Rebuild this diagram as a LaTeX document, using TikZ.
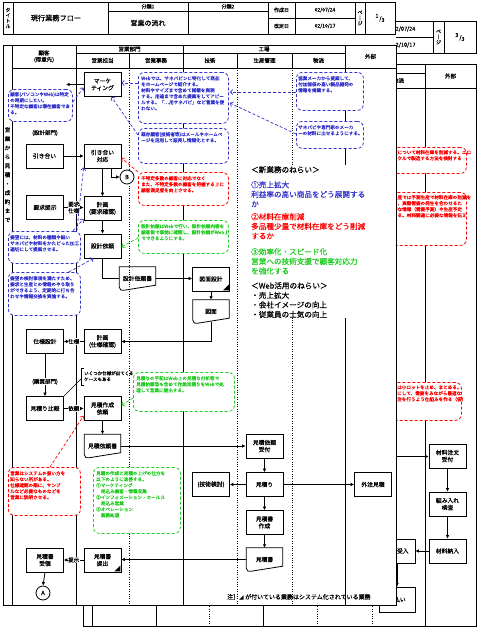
\documentclass[tikz,border=0pt]{standalone}
\usepackage{fontspec}
\setmainfont{Noto Sans CJK JP}[FakeBold=0.5]
\newfontfamily\djv{DejaVu Sans}
\usetikzlibrary{arrows.meta,calc}
\definecolor{cblue}{RGB}{51,51,204}
\definecolor{cred}{RGB}{255,0,0}
\definecolor{cgreen}{RGB}{34,204,34}
\tikzset{
  proc/.style={draw, line width=0.8pt, fill=white, minimum width=37pt, minimum height=24pt, inner sep=0pt, align=center, font=\fontsize{5.8}{7}\selectfont},
  docn/.style={minimum width=36pt, minimum height=23pt, inner sep=0pt, align=center, font=\fontsize{5.8}{7}\selectfont},
  flow/.style={line width=0.8pt, -{Latex[length=3.5pt,width=3.5pt]}},
  plainl/.style={line width=0.8pt},
  gridl/.style={line width=0.8pt},
  dotl/.style={line width=0.8pt, dash pattern=on 0.8pt off 1.6pt},
  callout/.style={rounded corners=6pt, dash pattern=on 3pt off 2pt, line width=0.8pt, fill=white, anchor=north west, inner sep=0pt},
  ctext/.style={font=\fontsize{4.6}{6}\selectfont, align=left, inner sep=0pt, anchor=north west},
  ptr/.style={dash pattern=on 3pt off 2pt, line width=0.7pt, -{Straight Barb[length=2.5pt,width=5pt]}},
  lbl/.style={fill=white, inner sep=0.5pt, font=\fontsize{5.5}{6.5}\selectfont, align=center},
  hdr/.style={inner sep=0pt, align=center, font=\fontsize{5.5}{6.5}\selectfont},
  conn/.style={circle, draw, line width=0.8pt, fill=white, minimum size=14pt, inner sep=0pt, font=\fontsize{6}{7}\selectfont},
  aim/.style={font=\fontsize{7.6}{9.6}\selectfont, align=left, inner sep=0pt, anchor=north west},
}
\begin{document}
\begin{tikzpicture}[x=1pt,y=-1pt]
\useasboundingbox (0,0) rectangle (477,627);
\fill[white] (0,0) rectangle (477,627);
% ================= back page =================
\draw[gridl] (83,21) rectangle (476,53);
\draw[gridl] (375,21) -- (375,53);
\draw[gridl] (433,21) -- (433,53);
\draw[gridl] (444,21) -- (444,53);
\draw[gridl] (348,37) -- (433,37);
\node[hdr] (bd1) at (404,29) {02/07/24};
\node[hdr] (bd2) at (404,45) {02/10/17};
\node[hdr, font=\fontsize{5}{5.5}\selectfont] (bpg) at (438.5,37) {ペ\\｜\\ジ};
\node[hdr] (bpn) at (460,37) {\raisebox{2.5pt}{3}\,/\raisebox{-1.5pt}{3}};
\draw[gridl] (83,64) rectangle (476,626);
\draw[gridl] (92,64) -- (92,626);
\draw[gridl] (156,64) -- (156,626);
\draw[gridl] (263,64) -- (263,626);
\draw[gridl] (425,64) -- (425,626);
\draw[gridl] (92,88) -- (476,88);
\draw[gridl] (156,73) -- (425,73);
\draw[gridl] (372,73) -- (372,88);
\draw[dotl] (209,88) -- (209,626);
\draw[dotl] (317,88) -- (317,626);
\draw[dotl] (372,88) -- (372,626);
\node[hdr] (bbt) at (398.5,80.5) {物流};
\node[hdr] (bgb) at (450.5,76) {外部};
\node[callout, draw=cred, minimum width=90pt, minimum height=26pt] (br1) at (376,147) {};
\node[ctext, text=cred] (br1t) at (379,150) {受注生産について材料在庫を削減する。エロ\\ットサイクルで製造する方法を検討する};
\node[callout, draw=cred, minimum width=90pt, minimum height=53pt] (br2) at (376,192) {};
\node[ctext, text=cred] (br2t) at (379,195) {見込み生産では予測生産で材料在庫の削減を\\行うため、実際需要の発生を合わせるた\\めに必要な情報（需要予測）や生産予定\\を把握する。材料調達に必要な情報を伝え\\る};
\node[callout, draw=cred, minimum width=90pt, minimum height=38pt] (br3) at (371,382) {};
\node[ctext, text=cred] (br3t) at (374,385) {材料の発注は小ロットを止め、まとめる。\\発注は月次にして、需要をみながら最適な\\ロットで発注を行うよう仕組みを作る（仮）};
\node[proc] (mc) at (447.5,456) {材料注文\\受付};
\node[proc] (kn) at (447.5,504) {組み入れ\\検査};
\node[proc] (zn) at (447.5,551) {材料納入};
\node[proc, minimum width=36pt] (uk) at (397,551) {材料受入};
\node[proc, minimum width=36pt, minimum height=25pt] (sh) at (397,599.5) {支払い};
\coordinate (mcin) at (372,456.5);
\draw[flow] (mcin) -- (mc.west |- mcin);
\draw[flow] (mc.south) -- (kn.north);
\draw[flow] (kn.south) -- (zn.north);
\draw[flow] (zn.west) -- (uk.east);
\draw[flow] (uk.south) -- (sh.north);
% ================= front page =================
\fill[white] (0,0) rectangle (396.4,605.4);
% title block
\draw[gridl] (3,2) rectangle (395,34);
\foreach \xx in {13,108,188,268,295,355,365} {\draw[gridl] (\xx,2) -- (\xx,34);}
\draw[gridl] (108,11) -- (268,11);
\draw[gridl] (268,18) -- (355,18);
\node[hdr, font=\fontsize{4.8}{5.4}\selectfont] (ttl) at (8,18) {タ\\イ\\ト\\ル};
\node[hdr, font=\fontsize{7.2}{8}\selectfont] (ttn) at (56,18) {現行業務フロー};
\node[hdr, font=\fontsize{5}{6}\selectfont] (b1) at (148,6.5) {分類1};
\node[hdr, font=\fontsize{7}{8}\selectfont] (b1v) at (148,23) {営業の流れ};
\node[hdr, font=\fontsize{5}{6}\selectfont] (b2) at (228,6.5) {分類2};
\node[hdr, font=\fontsize{5}{6}\selectfont] (cd) at (281.5,10) {作成日};
\node[hdr, font=\fontsize{5}{6}\selectfont] (cdv) at (325,10) {02/07/24};
\node[hdr, font=\fontsize{5}{6}\selectfont] (kd) at (281.5,26) {改定日};
\node[hdr, font=\fontsize{5}{6}\selectfont] (kdv) at (325,26) {02/10/17};
\node[hdr, font=\fontsize{5}{5.5}\selectfont] (pg) at (360,18) {ペ\\｜\\ジ};
\node[hdr] (pn) at (380,18) {\raisebox{2.5pt}{1}\,/\raisebox{-1.5pt}{3}};
% swimlane frame
\draw[gridl] (3,45) rectangle (396,605);
\draw[gridl] (12,45) -- (12,605);
\draw[gridl] (76,45) -- (76,605);
\draw[gridl] (183,45) -- (183,605);
\draw[gridl] (345,45) -- (345,605);
\draw[gridl] (12,68) -- (396,68);
\draw[gridl] (76,53) -- (345,53);
\foreach \xx in {129,237,292} {\draw[gridl] (\xx,53) -- (\xx,68); \draw[dotl] (\xx,68) -- (\xx,605);}
\node[hdr] (hc) at (44,56.5) {顧客\\(得意先)};
\node[hdr] (he) at (129.5,49) {営業部門};
\node[hdr] (he1) at (102.5,60.5) {営業担当};
\node[hdr] (he2) at (156,60.5) {営業事務};
\node[hdr] (hf) at (264,49) {工場};
\node[hdr] (hf1) at (210,60.5) {技術};
\node[hdr] (hf2) at (264.5,60.5) {生産管理};
\node[hdr] (hf3) at (318.5,60.5) {物流};
\node[hdr] (hx) at (370.5,56.5) {外部};
\node[hdr, font=\fontsize{5.6}{9}\selectfont, anchor=north] (side) at (7.5,127) {営\\業\\か\\ら\\見\\積\\・\\成\\約\\ま\\で};
% white area behind the aims text
\fill[white] (241,165) rectangle (394.5,318);
% ---- process boxes ----
\node[proc] (mk) at (102.5,84.5) {マーケ\\ティング};
\node[proc] (hik) at (44.5,156) {引き合い};
\node[proc] (hk) at (102.5,156) {引き合い\\対応};
\node[conn] (cB) at (127,177) {B};
\node[proc] (yk) at (45,207.5) {要求提示};
\node[proc] (kk1) at (102.5,208.5) {計画\\(要求確認)};
\node[proc] (sd) at (102.5,246) {設計依頼};
\node[docn] (sdoc) at (137.5,278.5) {設計依頼書};
\node[proc] (zs) at (211,279) {図面設計};
\node[docn] (zm) at (211,311.5) {図面};
\node[proc] (ss) at (45,341.5) {仕様設計};
\node[proc] (kk2) at (102.5,341.5) {計画\\(仕様確認)};
\node[proc] (mh) at (45,408.5) {見積り比較};
\node[proc] (mi) at (102.5,408.5) {見積作成\\依頼};
\node[docn] (mdoc) at (102.5,446) {見積依頼書};
\node[proc] (mu) at (264.5,446) {見積依頼\\受付};
\node[proc] (gk) at (264.5,484.5) {見積り};
\node[proc] (gj) at (211,484.5) {(技術検討)};
\node[proc] (gc) at (373,484.5) {外注見積};
\node[proc] (ms) at (264.5,522.5) {見積書\\作成};
\node[docn] (md2) at (264.5,559.5) {見積書};
\node[proc] (mt) at (102.5,560) {見積書\\提出};
\node[proc] (mj) at (45,560) {見積書\\受領};
\node[conn] (cA) at (43,593) {A};
\node[hdr] (sbu) at (45,133) {(設計部門)};
% document outlines
\foreach \d in {sdoc,zm,mdoc,md2} {
  \draw[plainl] ([yshift=3pt]\d.south west) -- (\d.north west) -- (\d.north east) -- ([yshift=5pt]\d.south east) -- ([xshift=5pt]\d.south west) .. controls ([xshift=1pt]\d.south west) .. cycle;
}
% system marks
\foreach \d in {zs,mt} {\fill ([shift={(-1pt,1pt)}]\d.south east) -- ++(0,6pt) -- ++(-6pt,-6pt) -- cycle;}
% ---- flows ----
\coordinate (mkl) at (66,84.5);
\draw[flow] (mk.west) -- (mkl);
\draw[flow] (hik.east) -- (hk.west);
\draw[flow] (hk.south) -- (kk1.north);
\draw[flow] ([xshift=9pt]hk.south) |- (cB.west);
\draw[flow] (yk.east) -- (yk.east -| kk1.west) node[lbl, midway] (l1) {要求\\仕様};
\draw[flow] (kk1.south) -- (sd.north);
\draw[plainl] (sd.south) |- (sdoc.west);
\draw[flow] (sdoc.east) -- (sdoc.east -| zs.west);
\draw[flow] (zs.south) -- (zm.north);
\draw[flow] ([yshift=1.5pt]zm.south) |- (kk2.east);
\draw[flow] (kk2.west) -- (ss.east) node[lbl, midway] (l2) {仕様};
\draw[flow] (ss.south) -- (mh.north) node[lbl, pos=0.66] (l3) {(購買部門)};
\draw[flow] (mh.east) -- (mi.west) node[lbl, midway] (l4) {依頼};
\draw[flow] (mi.south) -- (mdoc.north);
\draw[flow] (mdoc.east) -- (mdoc.east -| mu.west);
\draw[flow] (mu.south) -- (gk.north);
\draw[flow] (gk.west) -- (gj.east);
\draw[flow] (gk.east) -- (gc.west);
\draw[flow] (gk.south) -- (ms.north);
\draw[flow] (ms.south) -- (md2.north);
\draw[flow] (md2.west) -- (md2.west -| mt.east);
\draw[flow] (mt.west) -- (mj.east) node[lbl, midway] (l5) {提示};
\draw[flow] (mj.south) -- (cA.north);
% bracket note
\node[ctext, font=\fontsize{4.5}{6}\selectfont] (brk) at (84,371) {いくつか仕様が出てくる\\ケースもある};
\draw[plainl, line width=0.6pt] (84,368) -- (81,368) -- (81,385) -- (84,385);
\draw[plainl, line width=0.6pt] (81,379) -- (mh.north east);
% ---- callouts ----
\node[callout, draw=cblue, minimum width=64pt, minimum height=32pt] (na) at (8,89) {};
\node[ctext, text=cblue] (nat) at (10,92) {顧客(パソコンやWeb)は特定\\の時期にしたい。\\不特定な顧客は潜在顧客であ\\る。};
\node[callout, draw=cblue, minimum width=90pt, minimum height=51pt] (nb) at (138,72) {};
\node[ctext, text=cblue] (nbt) at (141,76) {Webでは、サネパピンに特化して商品\\をホームページで紹介する。\\材料やサイズまで含めて掲載を実現\\する。用途まで含めた提案をしてアピー\\ルする。「…用サネパピ」など言葉を使\\わない。};
\node[callout, draw=cblue, minimum width=90pt, minimum height=35pt] (nc) at (138,128) {};
\node[ctext, text=cblue] (nct) at (141,132) {既存顧客(技術者等)はメールやホームペ\\ージを活用して販売し情報化とする。};
\node[callout, draw=cblue, minimum width=67pt, minimum height=38pt] (nd) at (296,72) {};
\node[ctext, text=cblue] (ndt) at (298,76) {協業メーカから提案して、\\付加価値の高い製品開発の\\情報を掲載する。};
\node[callout, draw=cblue, minimum width=67pt, minimum height=27pt] (ne) at (296,121) {};
\node[ctext, text=cblue] (net) at (298,125) {サネパピや専門家のメーカ\\ーの材料に出せるようにする。};
\node[callout, draw=cred, minimum width=90pt, minimum height=33pt] (nh) at (138,172) {};
\node[ctext, text=cred] (nht) at (141,176) {不特定多数の顧客に対応でなく\\また、不特定多数の顧客を把握する上に\\顧客満足度を向上させる。};
\node[callout, draw=cblue, minimum width=72pt, minimum height=32pt] (nf) at (8,231) {};
\node[ctext, text=cblue] (nft) at (10,235) {要望には、材料の種類や細い\\サネパピや材料をかたどった加工\\適切にして提案させる。};
\node[callout, draw=cgreen, minimum width=90pt, minimum height=33pt] (nj) at (138,220) {};
\node[ctext, text=cgreen] (njt) at (141,224) {設計依頼はWebで行い、設計依頼内容を\\顧客側で事前に確認し、設計依頼がWeb上\\でできるようにする。};
\node[callout, draw=cblue, minimum width=72pt, minimum height=43pt] (ng) at (8,272) {};
\node[ctext, text=cblue] (ngt) at (10,276) {要望の検討事項を満たすため、\\要求と生産との情報のやり取り\\ができるよう、定期的に打ち合\\わせや情報交換を実施する。};
\node[callout, draw=cgreen, minimum width=101pt, minimum height=39pt] (nk) at (133,372) {};
\node[ctext, text=cgreen] (nkt) at (136,376) {見積りの手配はWeb上の見積り分析等で\\見積依頼等も含めて作業見積りをWebで処\\理して営業に提出する。};
\node[callout, draw=cred, minimum width=72pt, minimum height=48pt] (ni) at (8,467) {};
\node[ctext, text=cred] (nit) at (10,471) {営業はシステムの扱い方を\\知らない所がある。\\仕様確認の際に、サンプ\\ルなど必要なものなどを\\営業に説明させる。};
\node[callout, draw=cgreen, minimum width=87pt, minimum height=66pt] (nl) at (93,467) {};
\node[ctext, text=cgreen] (nlt) at (96,471) {見積の作成と見積の上げの仕方を\\以下のように改善する。\\①マーケティング\\\quad 見込み顧客・情報収集\\②インフォメーション・セールス\\\quad 見込み営業\\③オペレーション\\\quad 業務処理};
% ---- pointers ----
\draw[ptr, cblue] ($(na.north east)+(0,13)$) -- ($(mk.west)+(0,3)$);
\draw[ptr, cblue] ($(nb.north west)+(0,11)$) -- ($(mk.east)+(0,-1.5)$);
\draw[ptr, cblue] ($(nc.north west)+(0,7)$) -- ($(mk.south)+(9,0)$);
\draw[ptr, cblue] ($(nd.north west)+(0,20)$) -- ($(nb.north east)+(1,20)$);
\draw[ptr, cblue] ($(ne.north west)+(0,13)$) -- ($(nb.north east)+(1,31)$);
\draw[ptr, cred] (nh.north west) -- ($(hk.east)+(0,2)$);
\draw[ptr, cblue] ($(nf.north east)+(-4,0)$) -- ($(hk.south west)+(0,-1)$);
\draw[ptr, cblue] ($(nf.north east)+(-8,0)$) -- ($(kk1.south west)+(0,-2)$);
\draw[ptr, cgreen] ($(nj.north west)+(0,18)$) -- ($(sd.east)+(0,1)$);
\draw[ptr, cblue] ($(ng.north east)+(-12,0)$) -- ($(sd.south)+(-9,0)$);
\draw[ptr, cgreen] ($(nk.north west)+(0,26)$) -- ($(mi.east)+(0,-3)$);
\draw[ptr, cred] ($(ni.north west)+(42,0)$) -- ($(mi.south west)+(0,-5)$);
% ---- aims text ----
\node[aim] (a0) at (251,166) {＜新業務のねらい＞};
\node[aim, text=cblue] (a1) at (251,181) {①売上拡大\\利益率の高い商品をどう展開する\\か};
\node[aim, text=cred] (a2) at (251,213) {②材料在庫削減\\多品種少量で材料在庫をどう削減\\するか};
\node[aim, text=cgreen] (a3) at (251,248) {③効率化・スピード化\\営業への技術支援で顧客対応力\\を強化する};
\node[aim] (a4) at (251,282) {＜Web活用のねらい＞\\・売上拡大\\・会社イメージの向上\\・従業員の士気の向上};
% ---- note ----
\node[anchor=west, font=\fontsize{6}{7}\selectfont, inner sep=0pt] (nt) at (227,597) {注］{\djv ◢} が付いている業務はシステム化されている業務};
\end{tikzpicture}
\end{document}
